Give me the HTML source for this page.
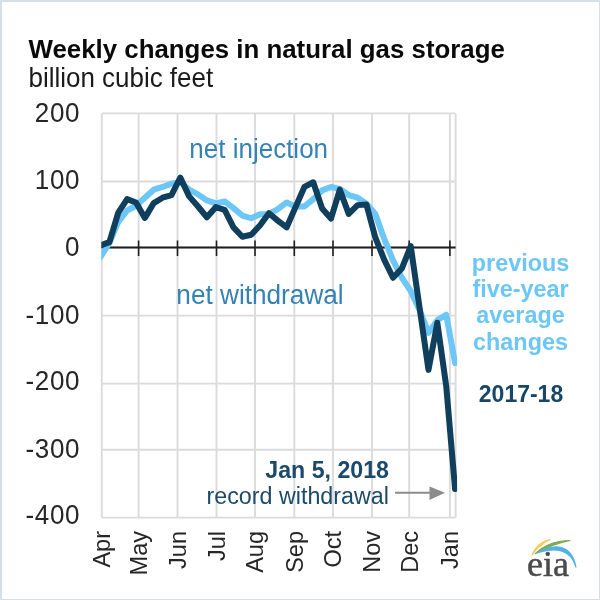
<!DOCTYPE html>
<html><head><meta charset="utf-8"><style>
html,body{margin:0;padding:0;width:600px;height:600px;overflow:hidden;background:#fff}
</style></head><body>
<div style="position:absolute;left:0;top:0;width:600px;height:600px;will-change:transform;">
<svg width="600" height="600" viewBox="0 0 600 600" style="display:block">
<defs><clipPath id="pc"><rect x="101.3" y="0" width="355.8" height="600"/></clipPath></defs>
<rect x="0" y="0" width="600" height="600" fill="#d6deea"/>
<rect x="2" y="2" width="597" height="597" fill="#ffffff"/>
<g stroke="#dbdbdb" stroke-width="1.9" fill="none"><line x1="101.8" y1="113.4" x2="455.6" y2="113.4"/><line x1="101.8" y1="181.5" x2="455.6" y2="181.5"/><line x1="101.8" y1="247.5" x2="455.6" y2="247.5"/><line x1="101.8" y1="315.6" x2="455.6" y2="315.6"/><line x1="101.8" y1="383.6" x2="455.6" y2="383.6"/><line x1="101.8" y1="449.7" x2="455.6" y2="449.7"/><line x1="101.8" y1="517.6" x2="455.6" y2="517.6"/><line x1="101.8" y1="113.4" x2="101.8" y2="517.6"/><line x1="138.6" y1="113.4" x2="138.6" y2="517.6"/><line x1="177.5" y1="113.4" x2="177.5" y2="517.6"/><line x1="216.5" y1="113.4" x2="216.5" y2="517.6"/><line x1="255.0" y1="113.4" x2="255.0" y2="517.6"/><line x1="294.3" y1="113.4" x2="294.3" y2="517.6"/><line x1="333.0" y1="113.4" x2="333.0" y2="517.6"/><line x1="372.0" y1="113.4" x2="372.0" y2="517.6"/><line x1="409.2" y1="113.4" x2="409.2" y2="517.6"/><line x1="449.9" y1="113.4" x2="449.9" y2="517.6"/><line x1="455.6" y1="113.4" x2="455.6" y2="517.6"/></g>
<g stroke="#1f1f1f" stroke-width="2" fill="none"><line x1="101.8" y1="247.5" x2="455.6" y2="247.5"/><line x1="138.6" y1="240.5" x2="138.6" y2="256.0" stroke-width="1.6"/><line x1="177.5" y1="240.5" x2="177.5" y2="256.0" stroke-width="1.6"/><line x1="216.5" y1="240.5" x2="216.5" y2="256.0" stroke-width="1.6"/><line x1="255.0" y1="240.5" x2="255.0" y2="256.0" stroke-width="1.6"/><line x1="294.3" y1="240.5" x2="294.3" y2="256.0" stroke-width="1.6"/><line x1="333.0" y1="240.5" x2="333.0" y2="256.0" stroke-width="1.6"/><line x1="372.0" y1="240.5" x2="372.0" y2="256.0" stroke-width="1.6"/><line x1="409.2" y1="240.5" x2="409.2" y2="256.0" stroke-width="1.6"/><line x1="449.9" y1="240.5" x2="449.9" y2="256.0" stroke-width="1.6"/></g>
<text transform="translate(80.00 122.05) scale(1 1.040)" font-family='"Liberation Sans", sans-serif' font-size="26" fill="#262626" text-anchor="end" letter-spacing="0.6">200</text>
<text transform="translate(80.00 189.30) scale(1 1.040)" font-family='"Liberation Sans", sans-serif' font-size="26" fill="#262626" text-anchor="end" letter-spacing="0.6">100</text>
<text transform="translate(80.00 255.85) scale(1 1.040)" font-family='"Liberation Sans", sans-serif' font-size="26" fill="#262626" text-anchor="end" letter-spacing="0.6">0</text>
<text transform="translate(80.00 324.40) scale(1 1.040)" font-family='"Liberation Sans", sans-serif' font-size="26" fill="#262626" text-anchor="end" letter-spacing="0.6">-100</text>
<text transform="translate(80.00 390.40) scale(1 1.040)" font-family='"Liberation Sans", sans-serif' font-size="26" fill="#262626" text-anchor="end" letter-spacing="0.6">-200</text>
<text transform="translate(80.00 458.20) scale(1 1.040)" font-family='"Liberation Sans", sans-serif' font-size="26" fill="#262626" text-anchor="end" letter-spacing="0.6">-300</text>
<text transform="translate(80.00 524.30) scale(1 1.040)" font-family='"Liberation Sans", sans-serif' font-size="26" fill="#262626" text-anchor="end" letter-spacing="0.6">-400</text>
<text transform="translate(110.10 531.00) rotate(-90) scale(1 1.040)" font-family='"Liberation Sans", sans-serif' font-size="23.5" fill="#262626" text-anchor="end">Apr</text>
<text transform="translate(146.90 531.00) rotate(-90) scale(1 1.040)" font-family='"Liberation Sans", sans-serif' font-size="23.5" fill="#262626" text-anchor="end">May</text>
<text transform="translate(185.80 531.00) rotate(-90) scale(1 1.040)" font-family='"Liberation Sans", sans-serif' font-size="23.5" fill="#262626" text-anchor="end">Jun</text>
<text transform="translate(224.80 531.00) rotate(-90) scale(1 1.040)" font-family='"Liberation Sans", sans-serif' font-size="23.5" fill="#262626" text-anchor="end">Jul</text>
<text transform="translate(263.30 531.00) rotate(-90) scale(1 1.040)" font-family='"Liberation Sans", sans-serif' font-size="23.5" fill="#262626" text-anchor="end">Aug</text>
<text transform="translate(302.60 531.00) rotate(-90) scale(1 1.040)" font-family='"Liberation Sans", sans-serif' font-size="23.5" fill="#262626" text-anchor="end">Sep</text>
<text transform="translate(341.30 531.00) rotate(-90) scale(1 1.040)" font-family='"Liberation Sans", sans-serif' font-size="23.5" fill="#262626" text-anchor="end">Oct</text>
<text transform="translate(380.30 531.00) rotate(-90) scale(1 1.040)" font-family='"Liberation Sans", sans-serif' font-size="23.5" fill="#262626" text-anchor="end">Nov</text>
<text transform="translate(417.50 531.00) rotate(-90) scale(1 1.040)" font-family='"Liberation Sans", sans-serif' font-size="23.5" fill="#262626" text-anchor="end">Dec</text>
<text transform="translate(458.20 531.00) rotate(-90) scale(1 1.040)" font-family='"Liberation Sans", sans-serif' font-size="23.5" fill="#262626" text-anchor="end">Jan</text>
<text transform="translate(258.70 157.50) scale(1 1.030)" font-family='"Liberation Sans", sans-serif' font-size="26" fill="#3582b5" text-anchor="middle">net injection</text>
<text transform="translate(260.00 303.80) scale(1 1.030)" font-family='"Liberation Sans", sans-serif' font-size="26.2" fill="#3582b5" text-anchor="middle">net withdrawal</text>
<g clip-path="url(#pc)" fill="none" stroke-linejoin="round" stroke-linecap="round" stroke-width="6">
<path d="M100.53 256.92 L109.40 242.79 L118.26 221.94 L127.12 210.51 L135.99 205.81 L144.85 197.74 L153.71 189.66 L162.58 186.97 L171.44 183.61 L180.30 182.27 L189.17 189.66 L198.03 194.37 L206.89 200.43 L215.76 203.45 L224.62 201.43 L233.48 208.16 L242.35 215.56 L251.21 218.25 L260.07 214.21 L268.94 213.88 L277.80 209.17 L286.67 202.44 L295.53 206.48 L304.39 206.48 L313.26 199.08 L322.12 190.34 L330.98 186.97 L339.85 188.99 L348.71 195.05 L357.57 197.74 L366.44 203.79 L375.30 213.88 L384.16 238.76 L393.03 260.28 L401.89 277.76 L410.75 291.21 L419.62 310.04 L428.48 332.91 L437.34 320.13 L446.21 314.75 L455.07 363.17" stroke="#6cc6f6"/>
<path d="M100.53 245.48 L109.40 242.12 L118.26 212.53 L127.12 199.08 L135.99 202.44 L144.85 217.91 L153.71 203.12 L162.58 197.74 L171.44 195.05 L180.30 177.56 L189.17 196.39 L198.03 206.48 L206.89 217.24 L215.76 207.15 L224.62 209.84 L233.48 227.32 L242.35 236.74 L251.21 234.72 L260.07 225.31 L268.94 213.20 L277.80 220.60 L286.67 227.32 L295.53 207.15 L304.39 186.97 L313.26 182.27 L322.12 208.50 L330.98 218.58 L339.85 189.66 L348.71 213.88 L357.57 205.13 L366.44 204.46 L375.30 237.41 L384.16 259.61 L393.03 277.76 L401.89 268.35 L410.75 246.16 L419.62 308.02 L428.48 369.89 L437.34 322.82 L446.21 386.03 L455.07 488.93" stroke="#103f5e"/>
</g>
<text transform="translate(520.50 271.00) scale(1 1.040)" font-family='"Liberation Sans", sans-serif' font-size="23.4" fill="#6cc6f6" text-anchor="middle" font-weight="bold">previous</text>
<text transform="translate(520.50 297.20) scale(1 1.040)" font-family='"Liberation Sans", sans-serif' font-size="23.4" fill="#6cc6f6" text-anchor="middle" font-weight="bold">five-year</text>
<text transform="translate(520.50 323.40) scale(1 1.040)" font-family='"Liberation Sans", sans-serif' font-size="23.4" fill="#6cc6f6" text-anchor="middle" font-weight="bold">average</text>
<text transform="translate(520.50 349.60) scale(1 1.040)" font-family='"Liberation Sans", sans-serif' font-size="23.4" fill="#6cc6f6" text-anchor="middle" font-weight="bold">changes</text>
<text transform="translate(521.00 401.80) scale(1 1.060)" font-family='"Liberation Sans", sans-serif' font-size="23" fill="#17466a" text-anchor="middle" font-weight="bold">2017-18</text>
<text transform="translate(389.00 478.00) scale(1 1.040)" font-family='"Liberation Sans", sans-serif' font-size="23.2" fill="#1b4a6b" text-anchor="end" font-weight="bold">Jan 5, 2018</text>
<text transform="translate(389.00 504.00) scale(1 1.040)" font-family='"Liberation Sans", sans-serif' font-size="23.3" fill="#1b4a6b" text-anchor="end">record withdrawal</text>
<line x1="395" y1="492.8" x2="432" y2="492.8" stroke="#8c8c8c" stroke-width="2"/>
<path d="M429.5 486.5 L445 492.8 L429.5 500 Z" fill="#8c8c8c"/>
<text transform="translate(28.50 57.60) scale(1 1.030)" font-family='"Liberation Sans", sans-serif' font-size="25.85" fill="#0a0a0a" text-anchor="start" font-weight="bold">Weekly changes in natural gas storage</text>
<text transform="translate(28.50 86.80) scale(1 1.040)" font-family='"Liberation Sans", sans-serif' font-size="25.95" fill="#1a1a1a" text-anchor="start">billion cubic feet</text>
<path d="M532 555 Q537 542 550 539.5 Q539 545 532 555 Z" fill="#f4cb5a" stroke="#f4cb5a" stroke-width="1.2" stroke-linejoin="round"/>
<path d="M535.5 553.5 Q548 541 570 540.5 Q551 544.5 535.5 553.5 Z" fill="#7daa4e" stroke="#7daa4e" stroke-width="1.2" stroke-linejoin="round"/>
<path d="M537 553 C552 544 571 542 576 567 C570 547 553 548 537 553 Z" fill="#52b2e6" stroke="#52b2e6" stroke-width="1.2" stroke-linejoin="round"/>
<text x="527" y="576" font-family='"Liberation Serif", serif' font-size="36" fill="#4a4a4a" stroke="#4a4a4a" stroke-width="0.5">eia</text>
</svg>
</div>
</body></html>
